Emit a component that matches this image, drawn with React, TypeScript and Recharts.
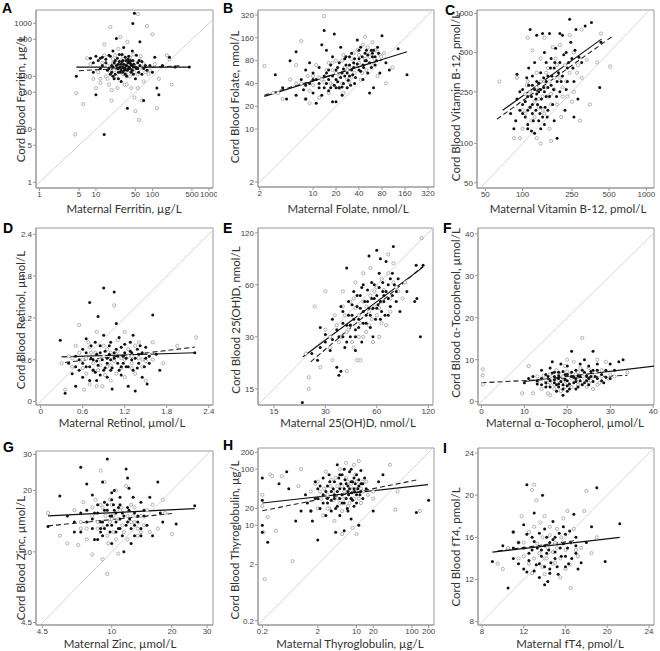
import React from "react";
import { ScatterChart, Scatter, XAxis, YAxis, ReferenceLine, ReferenceArea } from "recharts";

// ---- data: [maternal, cord] pairs; filled = black dots, open = gray circles ----
const ferritinFilled = [[4.5,100],[8,220],[9,180],[10,45],[11,200],[12,140],[13,230],[14,8],[15,180],[16,130],[17,250],[18,110],[19,160],[20,300],[21,90],[22,200],[23,520],[24,140],[25,170],[26,260],[27,120],[28,80],[29,190],[30,150],[31,350],[32,130],[33,230],[34,160],[35,100],[36,25],[37,210],[38,140],[40,180],[42,120],[44,300],[45,1000],[46,150],[48,1550],[50,90],[52,250],[55,140],[58,200],[60,450],[65,110],[70,35],[75,160],[80,130],[90,160],[100,120],[110,230],[120,60],[130,45],[150,160],[200,230],[250,150],[450,150],[28,170],[33,140],[38,190],[25,120],
  [15,210],[17,140],[18,240],[19,120],[20,150],[21,180],[22,110],[23,160],[24,220],[25,140],[26,190],[27,150],[28,130],[29,260],[30,200],[30,120],[31,170],[32,140],[33,110],[34,200],[35,160],[36,130],[37,180],[38,240],[39,150],[40,140],[41,200],[42,170],[43,160],[44,130],[45,200],[46,110],[47,170],[50,150],[52,140],[55,180],[57,120],[60,160],[12,220],[13,160],[10,240],[9,120],[65,190],[70,140],[20,100],[25,90]];
const ferritinOpen = [[4.3,8],[4.5,48],[6,30],[7,220],[8,170],[9,90],[10,60],[11,120],[12,90],[13,180],[14,400],[15,100],[17,70],[18,850],[19,35],[20,180],[21,130],[22,250],[24,60],[25,330],[27,550],[28,200],[30,110],[32,70],[34,140],[36,450],[38,180],[40,100],[42,60],[45,130],[48,40],[50,22],[55,1500],[58,15],[60,200],[65,35],[70,80],[80,900],[85,110],[90,130],[100,620],[110,170],[120,25],[130,90],[180,250],[200,210],[220,70],
  [14,250],[16,160],[18,120],[20,210],[22,160],[23,100],[24,180],[26,130],[28,160],[30,240],[32,180],[34,110],[36,170],[38,130],[40,230],[42,150],[44,180],[46,260],[48,120],[50,180],[55,110],[60,140],[62,240],[70,170],[75,120],[16,90],[12,75],[19,55],[35,70],[55,60]];
const ferritinTicks = [1, 5, 10, 50, 100, 500, 1000];
const ferritinFitSolid = [[4.5,150],[450,150]];
const ferritinFitDashed = [[5,128],[300,158]];

const folateFilled = [[3.2,52],[4,35],[4.5,25],[5,80],[6,28],[6,105],[7,45],[7.5,33],[8,60],[8,25],[9,75],[9,40],[10,30],[10,55],[11,22],[11,45],[12,35],[12,65],[13,130],[13,28],[14,200],[14,50],[15,40],[15,110],[16,60],[17,35],[18,23],[18,90],[19,180],[20,45],[20,23],[21,65],[22,35],[23,120],[24,55],[25,40],[26,85],[27,70],[28,35],[30,90],[30,50],[32,60],[34,75],[35,40],[38,150],[40,85],[40,60],[42,120],[45,70],[45,45],[48,100],[50,80],[52,55],[55,30],[58,110],[60,90],[62,35],[65,70],[70,120],[75,55],[80,170],[90,75],[100,60],[130,115],[170,52],
  [12,40],[14,35],[15,55],[16,45],[17,70],[18,50],[19,38],[20,60],[21,42],[22,75],[23,48],[24,36],[25,62],[26,50],[27,90],[28,55],[29,44],[30,70],[31,38],[32,100],[33,52],[34,65],[35,85],[36,48],[38,72],[40,110],[42,58],[44,90],[46,65],[48,80],[50,110],[52,95],[55,75],[58,65],[60,100],[62,110],[65,90],[68,80],[72,100],[16,32],[20,35],[24,28],[10,45],[8,38]];
const folateOpen = [[2.3,68],[3,30],[3.5,30],[4,25],[5,45],[6,70],[7,145],[7,40],[8,25],[8.5,50],[9,22],[10,38],[11,70],[12,26],[13,45],[14,310],[15,60],[16,30],[17,40],[18,75],[20,55],[22,35],[24,80],[25,30],[28,45],[30,65],[32,85],[35,55],[38,110],[40,95],[42,45],[45,130],[48,165],[50,60],[55,90],[60,140],[65,110],[70,50],[75,95],[85,100],[90,40],[110,65],
  [10,50],[12,48],[14,42],[16,75],[18,38],[20,80],[22,50],[24,40],[26,65],[28,60],[30,42],[32,48],[34,100],[36,70],[40,75],[44,55],[48,85],[52,120],[56,100],[60,70],[64,85],[70,105],[78,90],[9,32],[6,40],[25,95],[18,60]];
const folateTicks = [2, 10, 20, 40, 80, 160, 320];
const folateFitSolid = [[2.3,27],[170,105]];
const folateFitDashed = [[2.3,28],[80,82]];

const b12Filled = [[80,170],[85,130],[88,150],[90,220],[90,340],[95,180],[100,200],[100,260],[105,160],[108,320],[110,140],[110,230],[112,380],[115,190],[115,750],[118,125],[120,280],[120,170],[125,120],[125,420],[128,220],[130,300],[130,680],[135,150],[135,250],[140,190],[140,350],[145,700],[148,270],[150,140],[150,500],[155,230],[160,330],[160,180],[165,700],[170,280],[170,450],[175,200],[180,380],[180,150],[185,540],[190,300],[190,110],[200,250],[200,420],[210,680],[210,330],[220,180],[225,500],[230,380],[240,900],[245,600],[250,450],[260,300],[270,750],[280,220],[300,420],[320,800],[360,850],[420,270],[430,600],[260,160],[200,700],[155,420],[230,300],
  [95,250],[100,170],[105,210],[110,180],[112,280],[118,230],[120,200],[122,150],[125,260],[128,180],[130,240],[132,200],[135,290],[138,170],[140,260],[142,220],[145,160],[148,320],[150,250],[152,190],[155,300],[158,160],[160,270],[165,230],[168,380],[172,330],[178,260],[182,420],[188,230],[195,350],[205,300],[215,480],[225,260],[235,420],[255,380],[265,520],[285,460],[110,130],[140,130],[120,330]];
const b12Open = [[65,300],[85,110],[90,320],[95,110],[100,130],[105,240],[110,650],[110,300],[115,190],[120,520],[125,160],[130,110],[135,220],[140,450],[145,180],[150,650],[155,270],[160,380],[165,130],[170,240],[175,550],[180,320],[185,450],[190,200],[200,570],[205,160],[210,270],[220,400],[230,230],[240,680],[250,210],[260,500],[275,350],[290,150],[300,750],[330,440],[350,200],[400,420],[430,700],[510,390],[140,100],[170,105],[300,320],
  [100,180],[108,280],[115,250],[118,150],[125,210],[130,270],[135,190],[140,300],[145,230],[150,170],[155,350],[160,230],[165,300],[170,200],[180,260],[190,400],[200,320],[210,230],[225,300],[240,350],[260,250],[280,400],[150,300],[130,350],[105,170]];
const b12Ticks = [50, 100, 250, 500, 1000];
const b12FitSolid = [[69,180],[434,634]];
const b12FitDashed = [[62,154],[525,660]];

const retinolFilled = [[0.28,0.88],[0.35,0.12],[0.4,0.55],[0.45,0.4],[0.5,0.22],[0.5,0.65],[0.55,0.45],[0.6,0.35],[0.6,0.75],[0.65,0.9],[0.65,0.5],[0.7,1.42],[0.7,0.3],[0.72,0.62],[0.75,0.45],[0.78,0.85],[0.8,0.58],[0.82,1.22],[0.85,0.38],[0.85,0.7],[0.9,1.63],[0.9,0.95],[0.92,0.48],[0.95,0.62],[0.98,0.8],[1.0,0.45],[1.02,0.18],[1.05,1.57],[1.05,0.7],[1.08,1.12],[1.1,0.55],[1.12,0.92],[1.15,0.38],[1.18,0.65],[1.2,0.82],[1.22,0.5],[1.25,0.22],[1.28,0.72],[1.3,0.6],[1.32,0.95],[1.35,0.15],[1.38,0.48],[1.4,0.68],[1.42,0.8],[1.45,0.35],[1.5,0.62],[1.52,0.25],[1.55,0.55],[1.6,1.24],[1.65,0.68],[1.7,0.45],[2.2,0.7],[0.95,0.35],[1.15,0.5],[0.8,0.3],
  [0.6,0.55],[0.65,0.7],[0.7,0.5],[0.72,0.8],[0.75,0.6],[0.78,0.42],[0.8,0.68],[0.82,0.52],[0.85,0.8],[0.88,0.6],[0.9,0.45],[0.92,0.72],[0.95,0.55],[0.98,0.68],[1.0,0.6],[1.0,0.85],[1.02,0.48],[1.05,0.62],[1.08,0.75],[1.1,0.65],[1.12,0.45],[1.15,0.78],[1.18,0.55],[1.2,0.7],[1.22,0.62],[1.25,0.5],[1.28,0.85],[1.3,0.7],[1.32,0.45],[1.35,0.62],[1.38,0.75],[1.4,0.55],[1.45,0.7],[1.48,0.5],[1.5,0.78],[1.55,0.65],[0.55,0.6],[0.5,0.5]];
const retinolOpen = [[0.3,0.55],[0.35,0.17],[0.4,0.65],[0.45,0.5],[0.5,0.8],[0.55,1.1],[0.6,0.6],[0.62,0.17],[0.65,0.4],[0.68,0.85],[0.7,0.25],[0.72,0.7],[0.75,0.45],[0.8,0.22],[0.8,1.0],[0.85,0.6],[0.88,0.22],[0.9,0.8],[0.95,0.5],[1.0,0.7],[1.05,1.38],[1.08,0.4],[1.1,0.88],[1.15,0.62],[1.2,0.35],[1.2,1.0],[1.25,0.75],[1.3,0.55],[1.35,0.4],[1.4,0.85],[1.45,0.6],[1.5,0.3],[1.55,0.68],[1.6,0.85],[1.75,0.55],[1.95,0.8],[2.22,0.92],[1.0,0.3],[1.3,0.65],
  [0.55,0.7],[0.6,0.48],[0.65,0.62],[0.7,0.78],[0.75,0.55],[0.78,0.7],[0.82,0.45],[0.85,0.52],[0.9,0.65],[0.92,0.38],[0.95,0.75],[1.0,0.52],[1.05,0.58],[1.1,0.72],[1.15,0.48],[1.2,0.6],[1.25,0.65],[1.3,0.48],[1.35,0.8],[1.4,0.62],[1.45,0.5],[1.5,0.58],[0.45,0.62],[1.6,0.6]];
const retinolTicks = [0, 0.6, 1.2, 1.8, 2.4];
const retinolFitSolid = [[0.3,0.64],[2.2,0.7]];
const retinolFitDashed = [[0.35,0.56],[2.2,0.78]];

const vitdFilled = [[22,12.5],[25,24],[27,22],[28,34],[30,28],[32,25],[33,38],[35,33],[35,20],[36,18],[37,45],[38,30],[38,42],[39,26],[40,35],[40,75],[41,48],[42,30],[43,40],[44,55],[45,33],[46,45],[47,38],[48,52],[49,28],[50,42],[50,60],[52,36],[53,48],[54,88],[55,40],[56,62],[57,30],[58,50],[60,44],[60,95],[62,70],[63,38],[65,55],[66,48],[68,82],[70,60],[72,45],[74,70],[75,100],[78,55],[80,65],[82,42],[90,55],[100,48],[102,78],[103,50],[108,30],[112,78],[37,19],[45,25],[63,85],[70,40],
  [36,30],[38,36],[40,28],[41,40],[42,35],[43,46],[44,38],[45,30],[46,52],[47,34],[48,44],[49,58],[50,36],[51,48],[52,40],[53,56],[54,44],[55,34],[56,50],[57,44],[58,60],[59,38],[60,52],[61,46],[62,58],[63,48],[64,42],[65,62],[66,52],[67,40],[68,55],[70,50],[72,65],[74,52],[76,60],[78,48],[33,29],[30,31],[28,26]];
const vitdOpen = [[23,24],[24,15],[24,17.5],[26,45],[28,20],[30,55],[30,33],[32,30],[33,22],[34,40],[36,28],[38,55],[40,32],[40,19],[42,48],[44,26],[45,62],[46,22],[47,40],[48,22],[50,30],[50,70],[52,45],[54,35],[55,75],[57,28],[58,55],[60,40],[62,30],[64,65],[65,48],[68,35],[70,90],[72,50],[75,80],[78,58],[85,50],[88,62],[110,112],[55,52],[42,35],
  [35,35],[37,30],[39,40],[41,33],[43,28],[45,44],[47,30],[48,36],[50,48],[52,32],[54,42],[56,38],[58,45],[60,58],[62,44],[64,36],[66,56],[70,70],[72,42],[75,62],[80,55],[44,50],[38,45],[32,26]];
const vitdTicks = [15, 30, 60, 120];
const vitdFitSolid = [[22.2,23],[112,76]];
const vitdFitDashed = [[24.6,21.5],[112,77]];

const tocoFilled = [[10,4.5],[11,5.5],[12,6],[13,5],[14,7.5],[14,4],[15,6.5],[15,3.5],[16,8],[16,5],[16.5,9.5],[17,6],[17,4.5],[17.5,2.5],[18,7],[18,5.5],[18.5,9],[19,1.5],[19,4],[19.5,6.5],[20,8.5],[20,5],[20.5,3],[21,12],[21,6],[21.5,4.5],[22,7.5],[22,5.5],[22.5,3.5],[23,9],[23,6],[23.5,4],[24,10],[24,7],[24.5,5],[25,8.5],[25,4],[25.5,6],[26,12],[26,7.5],[27,5.5],[27,9],[28,6.5],[28.5,4.5],[29,7.5],[30,9],[30,5.5],[31,7.5],[32,9.5],[33,10],[42,6.5],[19,3],[20,2.5],[22,3],[18,3.5],
  [14,5.5],[15,4.5],[15.5,6],[16,3.5],[16.5,6.8],[17,5.2],[17.5,4],[18,6.2],[18.5,4.8],[19,7.2],[19.5,5.2],[20,6.5],[20.5,4.2],[21,7],[21.5,5.8],[22,4.8],[22.5,6.2],[23,5],[23.5,7.5],[24,4.5],[24.5,6.2],[25,5.5],[25.5,7.2],[26,4.8],[26.5,6],[27,7.5],[28,5],[29,5.8],[20,3.8],[18,4.2],[17,7],[13,4.2]];
const tocoOpen = [[0.3,7.7],[0.3,6.3],[0.3,4.1],[9.5,2],[11,8.5],[12,2],[13,6],[14,3],[15,5],[15.5,2],[16,6.5],[16,1.5],[17,4],[17.5,7.5],[18,5],[18.5,2.5],[19,6],[19.5,8.5],[20,4.5],[20.5,6.5],[21,3.5],[21.5,9.5],[22,5],[22.5,7],[23,4.5],[23.5,15.2],[24,6.5],[24.5,3.5],[25,8],[25.5,5],[26,3],[26.5,7],[27,10],[27.5,4.5],[28,6],[29,9.5],[29.5,5.5],[31,6],[34,7],[20,10],[14,5.5],
  [13,4.8],[14.5,6.2],[15.5,4],[16.5,5.5],[17,3],[18,6.8],[19,4.8],[20,7.2],[21,5.5],[22,6.5],[22.5,4],[23,8],[24,5.5],[25,4.5],[26,6],[27,4],[28,7.5],[30,6.5],[16,4.5],[19.5,3.5]];
const tocoTicks = [0, 10, 20, 30, 40];
const tocoFitSolid = [[10,4.8],[42,8.7]];
const tocoFitDashed = [[0,4.5],[34,6.3]];

const zincFilled = [[4.8,13.3],[5.5,18.8],[6,15],[6.5,14],[7,26],[7,12.5],[7.5,21.5],[7.5,16],[8,13],[8,19],[8.2,15.5],[8.5,11.5],[8.5,17],[8.8,14],[9,22],[9,12],[9.2,16],[9.5,28.5],[9.5,13.5],[9.8,15],[10,19.5],[10,11],[10.2,17],[10.5,14],[10.5,12.5],[10.8,16.5],[11,18.5],[11,13],[11.3,15.5],[11.5,10],[11.8,25.5],[12,23],[12,14],[12.2,16],[12.5,11],[12.8,18.5],[13,13.5],[13.5,15],[14,17.5],[14,12],[14.5,16],[15,13.5],[15.5,18.5],[16,12],[17,22],[17.5,15.5],[18,14],[21,13.7],[26,16.8],[9.2,17.5],[10.3,20],[8.8,13],[12.2,20.5],
  [8,14.5],[8.5,15.5],[8.8,12.5],[9,14],[9.2,13],[9.5,16],[9.8,12.5],[10,15],[10,13.5],[10.3,16],[10.5,15.5],[10.8,13],[11,14.5],[11,17],[11.3,12],[11.5,15],[11.8,13.5],[12,16.5],[12.3,14.5],[12.5,13],[13,15.5],[13,12],[13.5,14],[14,13],[14.5,15],[9.5,17],[10,18],[7.5,14],[7,15.5],[8.2,11.5],[6.5,12.5]];
const zincOpen = [[4.8,15.5],[5.5,12],[6,11],[6.5,16],[6.8,10.8],[7,13],[7.2,17.5],[7.5,11.5],[8,15],[8,9.7],[8.3,18],[8.5,13],[8.8,25],[9,9.2],[9,16.5],[9.2,22],[9.5,12],[9.5,7.8],[9.8,18],[10,14.5],[10.2,12.5],[10.5,20],[10.8,9.8],[11,16],[11.3,13.5],[11.8,21],[12,11.5],[12.5,17],[13,14],[13.5,12],[14,15],[14.5,13.5],[15.5,12.5],[16,17],[17,13],[18,18],[18.5,15.5],[20,12.2],[12.8,15],[10,17],
  [7.5,13],[8,16.5],[8.5,14],[8.8,17],[9,13.2],[9.3,15],[9.6,11],[9.8,14],[10.2,15],[10.5,11.5],[10.8,14.5],[11.2,16.5],[11.5,12.5],[12,15],[12.5,14],[13,16.5],[13.5,13],[14,12.5],[15,16],[7,14]];
const zincTicks = [4.5, 10, 20, 30];
const zincFitSolid = [[4.8,15],[26,16.3]];
const zincFitDashed = [[4.8,13.4],[20,15.4]];

const tgFilled = [[0.2,70],[0.2,28],[0.2,10],[0.2,7.5],[0.25,5],[0.4,55],[0.55,90],[0.6,45],[0.8,12],[1,18],[1.2,35],[1.3,25],[1.5,18],[1.6,12],[1.8,60],[1.8,30],[2,45],[2,5.5],[2.2,20],[2.5,70],[2.5,35],[2.8,15],[3,50],[3,25],[3.2,80],[3.5,40],[3.5,18],[4,60],[4,30],[4.2,7.5],[4.5,120],[4.5,22],[5,45],[5,15],[5.5,80],[5.5,35],[6,25],[6,8],[6.5,55],[7,40],[7,18],[7.5,90],[8,30],[8,13],[8.5,60],[9,45],[9,22],[10,35],[10,80],[11,50],[11,10],[12,40],[12,95],[13,55],[15,45],[20,18],[25,60],[120,17],[200,28],[30,80],
  [2,30],[2.2,50],[2.5,25],[2.8,40],[3,30],[3.3,60],[3.5,28],[3.8,45],[4,35],[4.2,20],[4.5,40],[4.8,70],[5,30],[5.2,55],[5.5,25],[6,45],[6.2,65],[6.5,30],[6.8,20],[7,50],[7.2,35],[7.5,45],[8,60],[8.2,38],[8.5,28],[9,70],[9.2,40],[9.5,55],[10,25],[10.5,45],[11,65],[11.5,35],[12,55],[13,30],[14,70],[6,100],[5,80],[8,100]];
const tgOpen = [[0.2,35],[0.2,22],[0.21,7.5],[0.22,1.1],[0.25,14],[0.28,80],[0.3,75],[0.35,8],[0.45,75],[0.7,2.3],[0.9,50],[1,100],[1.5,18],[1.8,55],[2,20],[2.2,40],[2.5,15],[2.8,90],[3,35],[3.2,20],[3.5,65],[3.8,28],[4,12],[4.5,50],[5,100],[5.5,18],[5.5,7],[6,40],[6.5,130],[7,22],[7,60],[8,30],[8.5,9],[9,120],[10,45],[10,7],[11,140],[12,25],[13,60],[16,35],[20,30],[40,120],[50,19],[55,40],[140,18],[20,40],
  [2,60],[2.3,30],[2.6,45],[3,20],[3.4,50],[3.8,40],[4.2,70],[4.6,30],[5,25],[5.5,50],[6,30],[6.5,70],[7,40],[7.5,25],[8,55],[8.5,45],[9,30],[9.5,80],[10,60],[11,30],[12,45],[13,40],[15,60],[1.5,40]];
const tgTicks = [0.2, 2, 10, 20, 100, 200];
const tgFitSolid = [[0.2,25],[195,53]];
const tgFitDashed = [[0.2,18.2],[128,65]];

const ft4Filled = [[9,13.7],[10,15.2],[10.5,11.2],[11,14],[11,16.5],[11.5,15.5],[12,13],[12,17.2],[12.3,21],[12.5,14.5],[12.8,16],[13,12.8],[13,18.3],[13.3,15],[13.5,13.5],[13.8,20],[14,16.8],[14,11.5],[14.2,14.5],[14.5,15.5],[14.5,13],[14.8,17.5],[15,14],[15,16],[15.3,12.5],[15.5,15],[15.8,17],[16,14.2],[16,16.3],[16.3,13.5],[16.5,15.5],[16.8,18.2],[17,14.5],[17,16],[17.5,13.6],[18,15.5],[18.5,17],[19,20.7],[19.8,13.7],[21.2,17.3],[14.3,11.8],[13.7,14.8],[12.3,12.7],
  [12,15],[12.3,16.3],[12.5,13.8],[12.8,14.8],[13,15.6],[13.2,13.4],[13.5,16.4],[13.7,14.2],[14,15.2],[14,13.2],[14.2,16],[14.4,14.8],[14.6,13.6],[14.8,15.8],[15,14.6],[15.2,13.2],[15.4,16.4],[15.6,14.2],[15.8,15.4],[16,13.2],[16.2,15],[16.4,16.6],[16.6,14],[17,15.2],[17.2,13],[13.5,12.2],[14.5,12.6],[11.5,13.5],[11,15]];
const ft4Open = [[9.5,13.5],[10,13],[10.5,15],[11,16.5],[11.5,14],[11.8,18],[12,15.5],[12.5,13.5],[12.8,20.5],[13,21],[13,17],[13.2,19.5],[13.5,14.5],[13.8,16],[14,18],[14,12.5],[14.3,15],[14.5,17],[14.8,13.5],[15,15.5],[15.2,16.8],[15.5,14],[15.8,17.8],[16,13],[16.2,18.5],[16.5,11.2],[16.5,15.5],[17,14.8],[17.5,15],[17.8,18.5],[18,20.4],[18.5,14.5],[19,16],[14,14],[15.5,12.2],
  [11.5,15.5],[12,14.2],[12.5,16.5],[13,14],[13.3,15.4],[13.8,13.2],[14.2,14],[14.5,16.2],[14.8,14.6],[15.2,15],[15.6,16],[16,14.8],[16.4,13.4],[16.8,16.8],[17.2,14.2],[12.8,12.6],[15,13.6],[13.6,17.4]];
const ft4Ticks = [8, 12, 16, 20, 24];
const ft4FitSolid = [[9,14.6],[21.2,16.0]];
const ft4FitDashed = [[9.5,14.7],[17,15.7]];

const toPts = (arr: number[][]) => arr.map(([x, y]) => ({ x, y }));

const FilledDot = (p: any) => <circle cx={p.cx} cy={p.cy} r={1.5} fill="#111" />;
const OpenDot = (p: any) => (
  <circle cx={p.cx} cy={p.cy} r={1.6} fill="#fff" stroke="#a0a0a0" strokeWidth={0.8} />
);

const tickStyle = { fontSize: 8, fill: "#444", fontFamily: "Liberation Sans, Arial, sans-serif" };
const titleFont = "Lato, 'Open Sans', sans-serif";

type Panel = {
  letter: string;
  xTitle: string;
  yTitle: string;
  log: boolean;
  xDomain: [number, number];
  yDomain: [number, number];
  ticks: number[];
  filled: number[][];
  open: number[][];
  solid: number[][];
  dashed: number[][];
  frame: { x: number; y: number; w: number; h: number };
  letterPos: [number, number];
  xTitlePos: [number, number];
  yTitlePos: [number, number];
};

const panels: Panel[] = [
  { letter: "A", xTitle: "Maternal Ferritin, µg/L", yTitle: "Cord Blood Ferritin, µg/L", log: true,
    xDomain: [0.87, 1180], yDomain: [0.78, 1790], ticks: ferritinTicks,
    filled: ferritinFilled, open: ferritinOpen, solid: ferritinFitSolid, dashed: ferritinFitDashed,
    frame: { x: 36, y: 10, w: 177, h: 178 }, letterPos: [2, 1], xTitlePos: [124, 208], yTitlePos: [20, 99] },
  { letter: "B", xTitle: "Maternal Folate, nmol/L", yTitle: "Cord Blood Folate, nmol/L", log: true,
    xDomain: [1.9, 384], yDomain: [1.72, 373], ticks: folateTicks,
    filled: folateFilled, open: folateOpen, solid: folateFitSolid, dashed: folateFitDashed,
    frame: { x: 258, y: 10, w: 176, h: 177 }, letterPos: [223, 1], xTitlePos: [348, 208], yTitlePos: [234, 97] },
  { letter: "C", xTitle: "Maternal Vitamin B-12, pmol/L", yTitle: "Cord Blood Vitamin B-12, pmol/L", log: true,
    xDomain: [42.8, 1153], yDomain: [45.6, 1061], ticks: b12Ticks,
    filled: b12Filled, open: b12Open, solid: b12FitSolid, dashed: b12FitDashed,
    frame: { x: 477, y: 10, w: 177, h: 178 }, letterPos: [445, 3], xTitlePos: [568, 208], yTitlePos: [455, 97] },
  { letter: "D", xTitle: "Maternal Retinol, µmol/L", yTitle: "Cord Blood Retinol, µmol/L", log: false,
    xDomain: [-0.066, 2.46], yDomain: [-0.05, 2.49], ticks: retinolTicks,
    filled: retinolFilled, open: retinolOpen, solid: retinolFitSolid, dashed: retinolFitDashed,
    frame: { x: 36, y: 228, w: 177, h: 177 }, letterPos: [3, 221], xTitlePos: [122, 422], yTitlePos: [20, 320] },
  { letter: "E", xTitle: "Maternal 25(OH)D, nmol/L", yTitle: "Cord Blood 25(OH)D, nmol/L", log: true,
    xDomain: [12.1, 128], yDomain: [12.1, 128], ticks: vitdTicks,
    filled: vitdFilled, open: vitdOpen, solid: vitdFitSolid, dashed: vitdFitDashed,
    frame: { x: 258, y: 228, w: 175, h: 177 }, letterPos: [223, 221], xTitlePos: [348, 422], yTitlePos: [235, 320] },
  { letter: "F", xTitle: "Maternal α-Tocopherol, µmol/L", yTitle: "Cord Blood α-Tocopherol, µmol/L", log: false,
    xDomain: [-0.8, 40.2], yDomain: [-0.8, 41.4], ticks: tocoTicks,
    filled: tocoFilled, open: tocoOpen, solid: tocoFitSolid, dashed: tocoFitDashed,
    frame: { x: 478, y: 228, w: 176, h: 177 }, letterPos: [443, 221], xTitlePos: [565, 422], yTitlePos: [455, 313] },
  { letter: "G", xTitle: "Maternal Zinc, µmol/L", yTitle: "Cord Blood Zinc, µmol/L", log: true,
    xDomain: [4.18, 32.1], yDomain: [4.38, 31.2], ticks: zincTicks,
    filled: zincFilled, open: zincOpen, solid: zincFitSolid, dashed: zincFitDashed,
    frame: { x: 36, y: 451, w: 177, h: 174 }, letterPos: [3, 440], xTitlePos: [120, 643], yTitlePos: [20, 558] },
  { letter: "H", xTitle: "Maternal Thyroglobulin, µg/L", yTitle: "Cord Blood Thyroglobulin, µg/L", log: true,
    xDomain: [0.167, 250], yDomain: [0.1675, 239], ticks: tgTicks,
    filled: tgFilled, open: tgOpen, solid: tgFitSolid, dashed: tgFitDashed,
    frame: { x: 258, y: 448, w: 176, h: 177 }, letterPos: [223, 438], xTitlePos: [350, 643], yTitlePos: [234, 540] },
  { letter: "I", xTitle: "Maternal fT4, pmol/L", yTitle: "Cord Blood fT4, pmol/L", log: false,
    xDomain: [7.62, 24.48], yDomain: [7.68, 24.48], ticks: ft4Ticks,
    filled: ft4Filled, open: ft4Open, solid: ft4FitSolid, dashed: ft4FitDashed,
    frame: { x: 478, y: 448, w: 176, h: 177 }, letterPos: [443, 441], xTitlePos: [570, 643], yTitlePos: [455, 547] },
];

const Y_W = 40;
const PAD = 4;

function PanelChart({ p }: { p: Panel }) {
  const { frame } = p;
  const lo = Math.max(p.xDomain[0], p.yDomain[0]);
  const hi = Math.min(p.xDomain[1], p.yDomain[1]);
  const scale = p.log ? "log" : "linear";
  return (
    <div style={{ position: "absolute", left: frame.x - Y_W, top: frame.y - PAD }}>
      <ScatterChart
        width={frame.w + Y_W + PAD}
        height={frame.h + PAD + 20}
        margin={{ top: PAD, right: PAD, left: 0, bottom: 0 }}
      >
        <XAxis
          type="number" dataKey="x" scale={scale} domain={p.xDomain} allowDataOverflow
          ticks={p.ticks} interval={0} height={20} tickSize={3} tickMargin={0}
          stroke="#999" tick={tickStyle}
        />
        <YAxis
          type="number" dataKey="y" scale={scale} domain={p.yDomain} allowDataOverflow
          ticks={p.ticks} interval={0} width={Y_W} tickSize={3} tickMargin={1}
          stroke="#999" tick={tickStyle}
        />
        <ReferenceArea x1={p.xDomain[0]} x2={p.xDomain[1]} y1={p.yDomain[0]} y2={p.yDomain[1]}
          fill="none" stroke="#999" strokeWidth={1} ifOverflow="visible" />
        <ReferenceLine segment={[{ x: lo, y: lo }, { x: hi, y: hi }]} stroke="#d6d6d6" strokeWidth={1} ifOverflow="hidden" />
        <Scatter data={toPts(p.open)} shape={OpenDot} isAnimationActive={false} />
        <Scatter data={toPts(p.filled)} shape={FilledDot} isAnimationActive={false} />
        <ReferenceLine
          segment={[{ x: p.dashed[0][0], y: p.dashed[0][1] }, { x: p.dashed[1][0], y: p.dashed[1][1] }]}
          stroke="#222" strokeWidth={1.1} strokeDasharray="5 3" ifOverflow="hidden"
        />
        <ReferenceLine
          segment={[{ x: p.solid[0][0], y: p.solid[0][1] }, { x: p.solid[1][0], y: p.solid[1][1] }]}
          stroke="#111" strokeWidth={1.2} ifOverflow="hidden"
        />
      </ScatterChart>
    </div>
  );
}

export default function App() {
  return (
    <div style={{ position: "absolute", left: 0, top: 0, width: 660, height: 651, background: "#fff" }}>
      {panels.map((p) => (
        <React.Fragment key={p.letter}>
          <PanelChart p={p} />
          <div style={{ position: "absolute", left: p.letterPos[0], top: p.letterPos[1], fontFamily: "Liberation Sans, Arial, sans-serif", fontWeight: 700, fontSize: 14, lineHeight: "14px", color: "#000" }}>
            {p.letter}
          </div>
          <div style={{ position: "absolute", left: p.xTitlePos[0], top: p.xTitlePos[1], transform: "translate(-50%, -50%)", whiteSpace: "nowrap", fontFamily: titleFont, fontSize: 11.5, lineHeight: "11px", color: "#333" }}>
            {p.xTitle}
          </div>
          <div style={{ position: "absolute", left: p.yTitlePos[0], top: p.yTitlePos[1], transform: "translate(-50%, -50%) rotate(-90deg)", whiteSpace: "nowrap", fontFamily: titleFont, fontSize: 11.5, lineHeight: "11px", color: "#333" }}>
            {p.yTitle}
          </div>
        </React.Fragment>
      ))}
    </div>
  );
}
